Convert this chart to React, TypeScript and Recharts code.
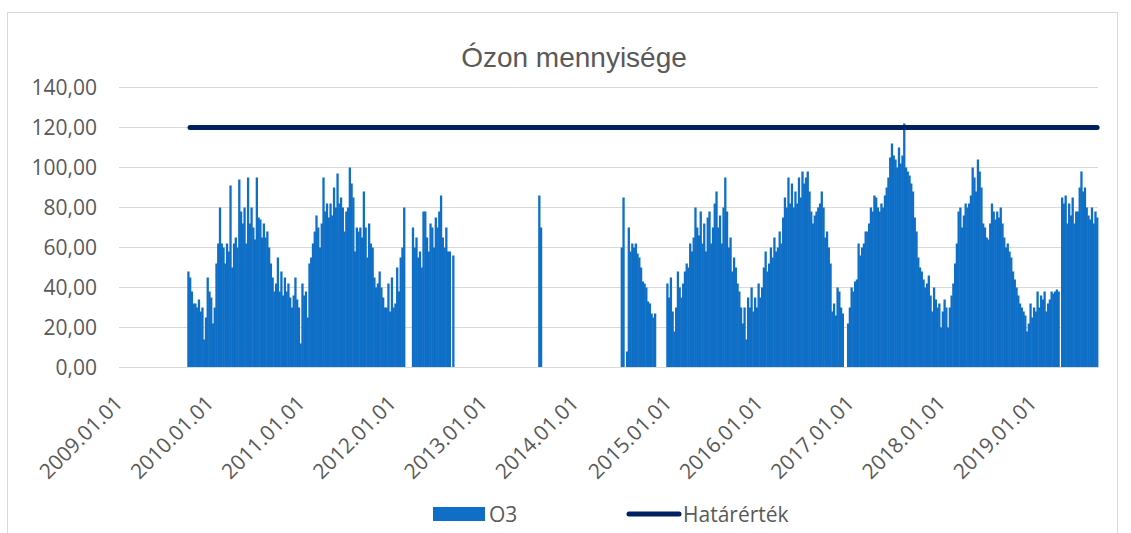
import React from 'react';
import { ComposedChart, Bar, Line, XAxis, YAxis, CartesianGrid } from 'recharts';

// ---------- labels ----------
const chartTitle = 'Ózon mennyisége';
const seriesNames = ['O3', 'Határérték'];
const xTickLabels = [
  '2009.01.01', '2010.01.01', '2011.01.01', '2012.01.01', '2013.01.01', '2014.01.01',
  '2015.01.01', '2016.01.01', '2017.01.01', '2018.01.01', '2019.01.01',
];
const yTicks = [0, 20, 40, 60, 80, 100, 120, 140];

// ---------- axis range (weekly categories) ----------
const axisStart = '2009.01.01';
const axisWeeks = 558;

// ---------- limit value ----------
const limitValue = 120;
const limitStart = '2009.10.08';

// ---------- O3 weekly values, each run starts at a date ----------
const run1Start = '2009.10.01';
const run1 = [
  48, 45, 38, 32, 32, 30, 34, 28, 30, 14,
  25, 45, 38, 35, 22, 30, 52, 62, 80, 62,
  60, 52, 62, 58, 91, 50, 62, 65, 60, 94,
  78, 72, 80, 62, 95, 72, 80, 70, 64, 95,
  75, 74, 65, 72, 65, 68, 60, 52, 45, 38,
  42, 55, 38, 48, 36, 45, 38, 42, 35, 30,
  36, 45, 34, 30, 12, 42, 36, 38, 25, 52,
  55, 62, 68, 76, 70, 60, 72, 95, 78, 82,
  75, 82, 76, 90, 80, 97, 82, 85, 80, 68,
  78, 80, 100, 92, 85, 58, 70, 68, 70, 65,
  88, 70, 55, 72, 62, 60, 45, 40, 42, 48,
  40, 35, 30, 30, 42, 28, 45, 30, 32, 50,
  38, 55, 60, 80,
];

const run2Start = '2012.03.15';
const run2 = [70, 60, 65, 55, 58, 50, 78, 78, 65, 58, 72, 70, 60, 75, 70, 78, 86, 65, 60, 70, 58, 58];

const run3Start = '2012.08.23';
const run3 = [56];

const run4Start = '2013.08.01';
const run4 = [86, 70];

const run5Start = '2014.06.26';
const run5 = [60, 85, null, 8, 70, 58, 62, 60, 62, 57, 55, 50, 43, 42, 40, 33, 32, 27, 25, 27];

const run6Start = '2014.12.25';
const run6 = [
  42, 35, 45, 28, 18, 30, 48, 40, 35, 42,
  48, 52, 50, 62, 58, 65, 80, 70, 66, 78,
  62, 72, 58, 75, 78, 62, 70, 82, 88, 70,
  76, 62, 80, 95, 78, 60, 65, 48, 55, 50,
  42, 38, 30, 22, 30, 14, 35, 30, 40, 28,
  35, 30, 42, 35, 40, 50, 58, 48, 52, 60,
  55, 65, 58, 60, 68, 62, 75, 85, 80, 95,
  82, 92, 80, 88, 82, 95, 85, 98, 92, 95,
  98, 88, 78, 72, 76, 78, 80, 82, 88, 80,
  65, 68, 60, 52, 28, 32, 26, 40, 38, 30,
  27, null, null, 22, 30, 40, 38, 43, 44, 62,
  56, 60, 62, 68, 68, 72, 80, 78, 86, 85,
  80, 78, 82, 80, 86, 90, 95, 105, 112, 106,
  104, 100, 110, 102, 106, 122, 100, 98, 96, 92,
  88, 75, 68, 55, 50, 48, 44, 40, 42, 46,
  36, 28, 40, 34, 30, 32, 20, 28, 34, 30,
  20, 30, 36, 42, 52, 62, 78, 80, 70, 76,
  82, 80, 82, 86, 100, 95, 88, 104, 98, 90,
  72, 70, 65, 64, 72, 82, 78, 74, 78, 75,
  80, 72, 65, 60, 62, 58, 55, 48, 44, 40,
  36, 32, 30, 28, 26, 18, 22, 32, 25, 30,
  28, 38, 30, 36, 34, 38, 28, 32, 34, 38,
  37, 38, 39, 38, null, 85, 82, 86, 72, 82,
  76, 85, 72, 78, 78, 90, 98, 88, 90, 80,
  76, 74, 80, 72, 78, 75,
];

const runs: [string, (number | null)[]][] = [
  [run1Start, run1], [run2Start, run2], [run3Start, run3],
  [run4Start, run4], [run5Start, run5], [run6Start, run6],
];

// ---------- helpers ----------
const DAY = 86400000;
const toUTC = (s: string) => {
  const [y, m, d] = s.split('.').map(Number);
  return Date.UTC(y, m - 1, d);
};
const startMs = toUTC(axisStart);
const weekIndex = (s: string) => Math.floor((toUTC(s) - startMs) / DAY / 7);

type Row = { k: number; o3: number | null; limit: number | null };
const limitK = weekIndex(limitStart);
const data: Row[] = [];
for (let k = 0; k < axisWeeks; k++) {
  data.push({ k, o3: null, limit: k >= limitK ? limitValue : null });
}
runs.forEach(([start, vals]) => {
  const s = weekIndex(start);
  vals.forEach((v, i) => {
    if (s + i < axisWeeks) data[s + i].o3 = v;
  });
});

const tickKs = xTickLabels.map((l) => weekIndex(l));
const labelByK = new Map<number, string>();
tickKs.forEach((k, i) => labelByK.set(k, xTickLabels[i]));

// ---------- style ----------
const W = 1131;
const H = 533;
const margin = { top: 87.5, right: 33, bottom: 45.5, left: 0 };
const yAxisWidth = 119;
const xAxisHeight = 120;
const plotWidth = W - margin.left - margin.right - yAxisWidth;
const bandWidth = plotWidth / axisWeeks;
const barColor = '#0F6FC6';
const limitColor = '#002060';
const textColor = '#595959';
const gridColor = '#D9D9D9';
const tickFont = "'Open Sans', 'DejaVu Sans', sans-serif";

const XTick = (props: any) => {
  const { x, y, payload } = props;
  const label = labelByK.get(payload.value);
  if (!label) return null;
  return (
    <g transform={`translate(${x + 4},${y + 37})`}>
      <text
        x={0}
        y={0}
        textAnchor="end"
        transform="rotate(-45)"
        fontFamily={tickFont}
        fontSize={21}
        fill={textColor}
      >
        {label}
      </text>
    </g>
  );
};

// Column drawn across its whole weekly band so neighbouring columns touch
const BandBar = (props: any) => {
  const { x, y, width, height, background } = props;
  if (height == null || !(height > 0)) return null;
  const bx = background && background.x != null ? background.x : x;
  const bw = background && background.width != null ? background.width : width;
  const left = Math.min(bx, x);
  const w = Math.max(bw, width, bandWidth);
  return <rect x={left - 0.15} y={y} width={w + 0.3} height={height} fill={barColor} />;
};

const fmtY = (v: number) => v.toFixed(2).replace('.', ',');

export default function App() {
  return (
    <div
      style={{
        position: 'absolute',
        left: 0,
        top: 0,
        width: W,
        height: H,
        background: '#fff',
        overflow: 'hidden',
      }}
    >
      <div
        style={{
          position: 'absolute',
          left: 7,
          top: 12,
          width: 1111,
          height: 600,
          border: `1px solid ${gridColor}`,
          boxSizing: 'border-box',
        }}
      />
      <div style={{ position: 'absolute', left: 0, top: 0 }}>
        <ComposedChart
          width={W}
          height={H}
          data={data}
          margin={margin}
          barCategoryGap={0}
          barGap={0}
        >
          <CartesianGrid vertical={false} stroke={gridColor} strokeWidth={1} />
          <XAxis
            dataKey="k"
            type="category"
            height={xAxisHeight}
            ticks={tickKs}
            interval={0}
            tick={<XTick />}
            tickLine={false}
            tickSize={0}
            tickMargin={0}
            axisLine={{ stroke: gridColor, strokeWidth: 1 }}
          />
          <YAxis
            width={yAxisWidth}
            domain={[0, 140]}
            ticks={yTicks}
            interval={0}
            tickFormatter={fmtY}
            axisLine={false}
            tickLine={false}
            tickSize={0}
            tickMargin={22}
            tick={{ fontFamily: tickFont, fontSize: 21, fill: textColor }}
          />
          <Bar
            dataKey="o3"
            name={seriesNames[0]}
            fill={barColor}
            shape={<BandBar />}
            isAnimationActive={false}
          />
          <Line
            dataKey="limit"
            name={seriesNames[1]}
            stroke={limitColor}
            strokeWidth={5}
            strokeLinecap="round"
            dot={false}
            activeDot={false}
            isAnimationActive={false}
          />
        </ComposedChart>
      </div>
      <svg
        width={W}
        height={H}
        style={{ position: 'absolute', left: 0, top: 0, pointerEvents: 'none' }}
      >
        <text
          x={574}
          y={66.5}
          textAnchor="middle"
          fontFamily="'Liberation Sans', Arial, sans-serif"
          fontSize={28}
          fill={textColor}
        >
          {chartTitle}
        </text>
        <rect x={433} y={507} width={52} height={14} fill={barColor} />
        <text x={489} y={521.5} fontFamily={tickFont} fontSize={21} fill={textColor}>
          {seriesNames[0]}
        </text>
        <line
          x1={629}
          x2={679}
          y1={514}
          y2={514}
          stroke={limitColor}
          strokeWidth={5}
          strokeLinecap="round"
        />
        <text x={683} y={521.5} fontFamily={tickFont} fontSize={21} fill={textColor}>
          {seriesNames[1]}
        </text>
      </svg>
    </div>
  );
}
